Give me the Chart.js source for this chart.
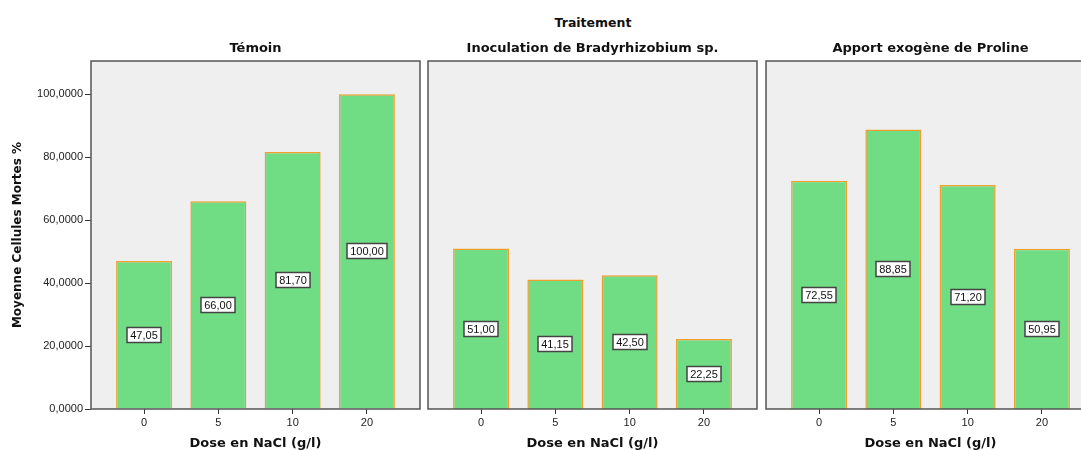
<!DOCTYPE html>
<html>
<head>
<meta charset="utf-8">
<script src="https://cdn.jsdelivr.net/npm/chart.js@4"></script>
<style>
  body { margin: 0; background: #fff; }
  #wrap { position: relative; width: 1081px; height: 450px; overflow: hidden; }
  #wrap canvas { position: absolute; top: 0; }
  #traitement { position: absolute; left: 0; width: 1186px; top: 15px; text-align: center;
    font: bold 12.5px "DejaVu Sans"; line-height: 16px; color: #111; }
</style>
</head>
<body>
<div id="wrap">
  <div id="traitement">Traitement</div>
  <canvas id="p1" width="430" height="450" style="left:0px"></canvas>
  <canvas id="p2" width="345" height="450" style="left:420px"></canvas>
  <canvas id="p3" width="346" height="450" style="left:757px"></canvas>
</div>
<script>
// doses de NaCl (g/l) et moyennes des cellules mortes (%)
const DOSES = ['0', '5', '10', '20'];
const PANELS = ['Témoin', 'Inoculation de Bradyrhizobium sp.', 'Apport exogène de Proline'];
const TEMOIN = [47.05, 66.00, 81.70, 100.00];
const INOCULATION = [51.00, 41.15, 42.50, 22.25];
const PROLINE = [72.55, 88.85, 71.20, 50.95];
const Y_TICKS = [0, 20, 40, 60, 80, 100];

Chart.defaults.font.family = 'DejaVu Sans';
Chart.defaults.color = '#222';

const virgule = (v, n) => v.toFixed(n).replace('.', ',');

// fond gris, cadre et titre du panneau
const panneau = {
  id: 'panneau',
  beforeDraw(chart) {
    const a = chart.chartArea, c = chart.ctx;
    c.save();
    c.fillStyle = '#efefef';
    c.fillRect(a.left, a.top, a.right - a.left, a.bottom - a.top);
    c.restore();
  },
  afterDraw(chart, args, opts) {
    const a = chart.chartArea, c = chart.ctx;
    c.save();
    c.strokeStyle = '#555';
    c.lineWidth = 1.5;
    c.strokeRect(a.left, a.top, a.right - a.left, a.bottom - a.top);
    c.fillStyle = '#111';
    c.font = 'bold 13px "DejaVu Sans"';
    c.textAlign = 'center';
    c.textBaseline = 'middle';
    c.fillText(opts.titre, (a.left + a.right) / 2, 49);
    c.restore();
  }
};

// étiquettes de valeur au milieu des barres
const etiquettes = {
  id: 'etiquettes',
  afterDatasetsDraw(chart) {
    const c = chart.ctx;
    const meta = chart.getDatasetMeta(0);
    const data = chart.data.datasets[0].data;
    c.save();
    c.font = '11px "Liberation Sans"';
    c.textAlign = 'center';
    c.textBaseline = 'middle';
    meta.data.forEach((bar, i) => {
      const txt = virgule(data[i].y, 2);
      const w = Math.round(c.measureText(txt).width + 6), h = 15;
      const y = Math.round((bar.y + bar.base) / 2);
      const x = Math.round(bar.x);
      c.fillStyle = '#fff';
      c.fillRect(x - w / 2, y - h / 2, w, h);
      c.strokeStyle = '#444';
      c.lineWidth = 1.5;
      c.strokeRect(x - w / 2, y - h / 2, w, h);
      c.fillStyle = '#111';
      c.fillText(txt, x, y + 0.5);
    });
    c.restore();
  }
};

function makePanel(id, titre, values, showY, pad) {
  return new Chart(document.getElementById(id), {
    type: 'bar',
    data: {
      datasets: [{
        data: values.map((v, i) => ({x: i, y: v})),
        backgroundColor: '#70dc84',
        borderColor: '#ee9f2e',
        borderWidth: 1.5,
        barPercentage: 0.754,
        categoryPercentage: 1
      }]
    },
    options: {
      responsive: false,
      animation: false,
      layout: {padding: {top: 61, bottom: 0, left: pad[0], right: pad[1]}},
      plugins: {
        legend: {display: false},
        tooltip: {enabled: false},
        panneau: {titre: titre}
      },
      scales: {
        x: {
          type: 'linear',
          offset: false,
          min: -0.715,
          max: 3.715,
          afterBuildTicks: s => { s.ticks = DOSES.map((d, i) => ({value: i})); },
          afterFit: s => { s.height = 41; },
          grid: {offset: false, drawOnChartArea: false, tickLength: 5, color: '#333'},
          border: {display: false},
          ticks: {
            padding: 2,
            maxRotation: 0,
            font: {family: 'Liberation Sans', size: 11},
            callback: v => DOSES[v]
          },
          title: {
            display: true,
            text: 'Dose en NaCl (g/l)',
            font: {size: 13, weight: 'bold', lineHeight: 1},
            padding: 0,
            color: '#111'
          }
        },
        y: {
          display: showY,
          min: 0,
          max: 110.6,
          afterBuildTicks: s => { s.ticks = Y_TICKS.map(v => ({value: v})); },
          afterFit: s => { if (showY) s.width = 91; },
          grid: {drawOnChartArea: false, tickLength: 6, color: '#333'},
          border: {display: false},
          ticks: {
            padding: 2,
            font: {family: 'Liberation Sans', size: 11},
            callback: v => virgule(v, 4)
          },
          title: {
            display: true,
            text: 'Moyenne Cellules Mortes %',
            font: {size: 12, weight: 'bold'},
            padding: {top: 11, bottom: 0},
            color: '#111'
          }
        }
      }
    },
    plugins: [panneau, etiquettes]
  });
}

makePanel('p1', PANELS[0], TEMOIN, true, [0, 10]);
makePanel('p2', PANELS[1], INOCULATION, false, [8, 8]);
makePanel('p3', PANELS[2], PROLINE, false, [9, 8]);
</script>
</body>
</html>
